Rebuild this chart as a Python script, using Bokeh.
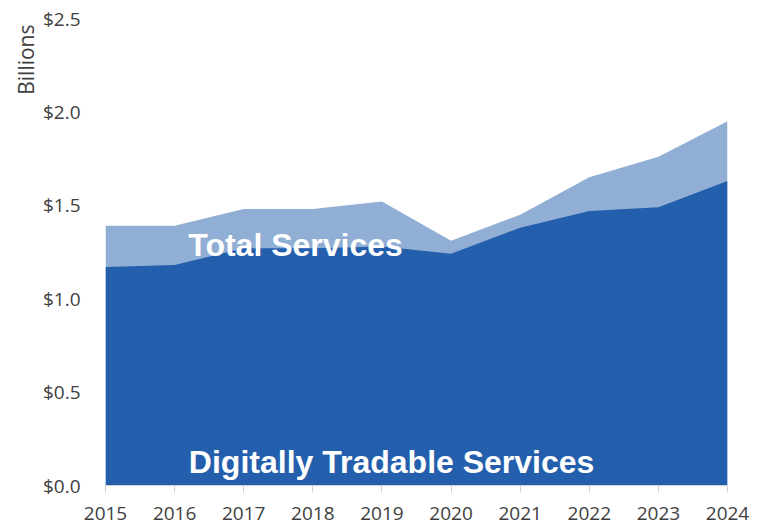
from bokeh.plotting import figure
from bokeh.models import ColumnDataSource, NumeralTickFormatter, FixedTicker, Range1d, Label, Title
from bokeh.embed import file_html
from bokeh.resources import INLINE

years = [2015, 2016, 2017, 2018, 2019, 2020, 2021, 2022, 2023, 2024]
total_services = [1.39, 1.39, 1.48, 1.48, 1.52, 1.31, 1.45, 1.65, 1.76, 1.95]
digital_services = [1.17, 1.18, 1.27, 1.27, 1.28, 1.24, 1.38, 1.47, 1.49, 1.63]
y_ticks = [0.0, 0.5, 1.0, 1.5, 2.0, 2.5]

src = ColumnDataSource(dict(year=years, total=total_services, digital=digital_services))

p = figure(width=765, height=527, output_backend="svg", toolbar_location=None,
           x_range=Range1d(2015, 2024), y_range=Range1d(0, 2.5),
           min_border_left=105, min_border_right=38, min_border_top=18, min_border_bottom=42)
p.outline_line_color = None
p.xgrid.visible = False
p.ygrid.visible = False
p.background_fill_color = "white"
p.border_fill_color = "white"

p.varea(x="year", y1=0, y2="total", source=src, fill_color="#91AED4")
p.varea(x="year", y1=0, y2="digital", source=src, fill_color="#245FAD")

tick_font = "Open Sans"
p.xaxis.ticker = FixedTicker(ticks=years)
p.xaxis.axis_line_color = "#d0d0d0"
p.xaxis.major_tick_line_color = "#d0d0d0"
p.xaxis.major_tick_out = 7
p.xaxis.major_tick_in = 0
p.xaxis.minor_tick_line_color = None
p.xaxis.major_label_text_font = tick_font
p.xaxis.major_label_text_font_size = "19px"
p.xaxis.major_label_text_color = "#404040"
p.xaxis.major_label_standoff = 14

p.yaxis.ticker = FixedTicker(ticks=y_ticks)
p.yaxis.formatter = NumeralTickFormatter(format="$0.0")
p.yaxis.axis_line_color = None
p.yaxis.major_tick_line_color = None
p.yaxis.minor_tick_line_color = None
p.yaxis.major_label_text_font = tick_font
p.yaxis.major_label_text_font_size = "19px"
p.yaxis.major_label_text_color = "#404040"
p.yaxis.major_label_standoff = 19

p.add_layout(Title(text="Billions", align="right", text_font=tick_font, text_font_size="21px",
                   text_font_style="normal", text_color="#404040", standoff=0, offset=6), "left")

p.add_layout(Label(x=2017.75, y=1.285, text="Total Services", text_align="center",
                   text_baseline="middle", text_color="white", text_font="Liberation Sans",
                   text_font_style="bold", text_font_size="32px"))
p.add_layout(Label(x=2019.14, y=0.128, text="Digitally Tradable Services", text_align="center",
                   text_baseline="middle", text_color="white", text_font="Liberation Sans",
                   text_font_style="bold", text_font_size="32px"))

open("out.html", "w").write(file_html(p, INLINE))
